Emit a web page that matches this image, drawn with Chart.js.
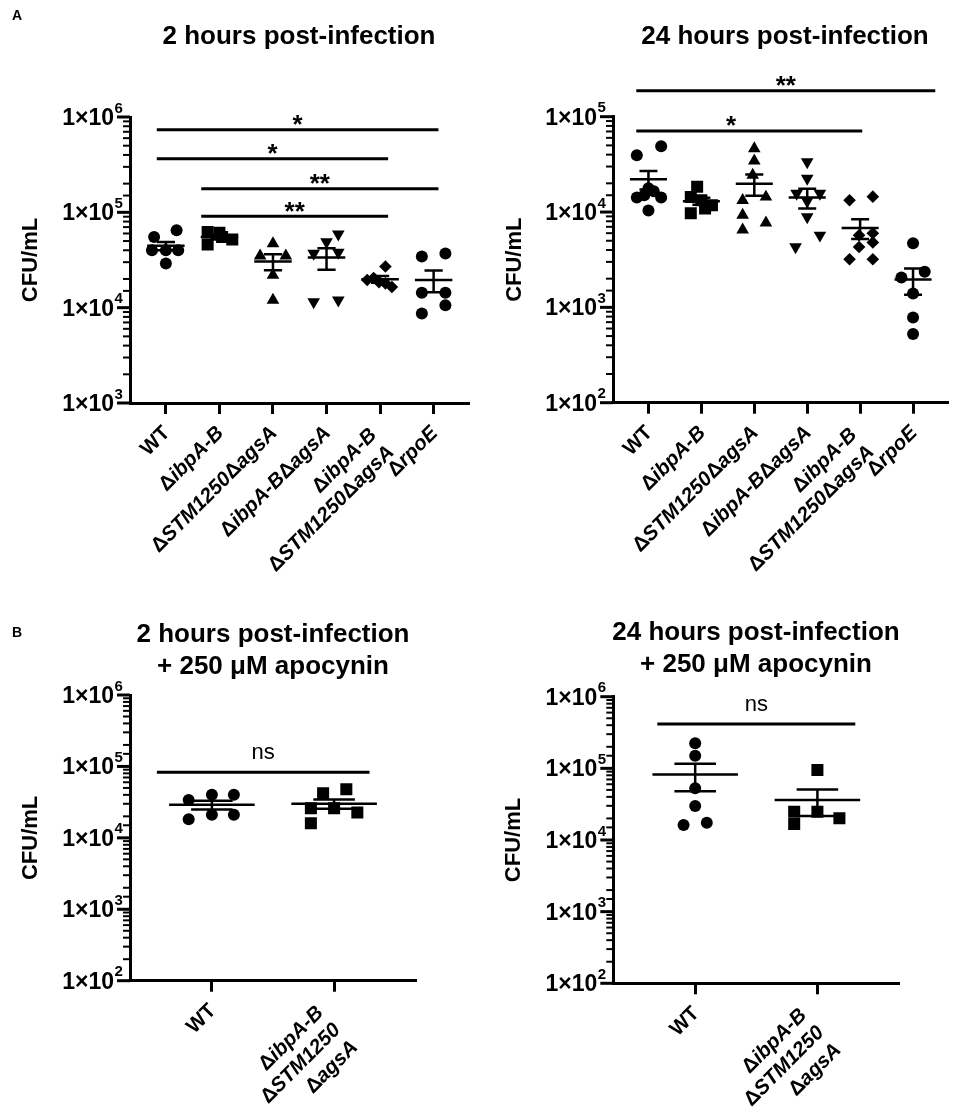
<!DOCTYPE html>
<html lang="en">

<head>
  <meta charset="UTF-8" />
  <title>CFU/mL after infection</title>
  <script src="https://cdn.jsdelivr.net/npm/chart.js"></script>
  <style>
    body {
      margin: 0;
      background: #fff;
      font-family: "Liberation Sans", Arial, sans-serif;
    }

    #page {
      position: relative;
      width: 957px;
      height: 1109px;
      overflow: hidden;
    }

    canvas {
      position: absolute;
    }

    .title {
      position: absolute;
      width: 400px;
      font-weight: bold;
      font-size: 26px;
      line-height: 32px;
      text-align: center;
      white-space: nowrap;
      color: #000;
    }

    .letter {
      position: absolute;
      font-weight: bold;
      font-size: 14px;
      line-height: 16px;
    }
  </style>
</head>

<body>

  <div id="page">
    <canvas id="c2h"></canvas>
    <canvas id="c24h"></canvas>
    <canvas id="cApo2h"></canvas>
    <canvas id="cApo24h"></canvas>

    <div class="letter" style="left:12px; top:7px;">A</div>
    <div class="title" style="left:99px; top:19px;">2 hours post-infection</div>
    <div class="title" style="left:585px; top:19px;">24 hours post-infection</div>
    <div class="letter" style="left:12px; top:624px;">B</div>
    <div class="title" style="left:73px; top:617px;">2 hours post-infection<br>+ 250 μM apocynin</div>
    <div class="title" style="left:556px; top:615px;">24 hours post-infection<br>+ 250 μM apocynin</div>
  </div>

  <script>
    // ---- data (CFU/mL) ----

    // A: 2 hours post-infection
    const groups2h = ['WT', 'ΔibpA-B', 'ΔSTM1250ΔagsA', 'ΔibpA-BΔagsA', ['ΔibpA-B', 'ΔSTM1250ΔagsA'], 'ΔrpoE'];
    const cfu2h = [
      [55000, 65000, 40000, 40000, 40000, 29000],
      [62000, 46000, 61000, 52000, 55000],
      [47000, 35000, 35000, 22000, 12000],
      [59000, 49000, 37000, 38000, 11500, 12000],
      [27000, 19500, 20500, 18500, 16500, 18000],
      [34500, 37000, 14300, 14300, 10600, 8700]
    ];
    const jitter2h = [
      [-0.22, 0.2, -0.26, 0, 0.23, 0],
      [-0.22, -0.22, 0, 0.24, 0.05],
      [0, -0.24, 0.24, 0, 0],
      [0.22, 0, -0.24, 0.22, -0.24, 0.22],
      [0.1, -0.24, -0.12, -0.02, 0.22, 0.1],
      [-0.22, 0.22, -0.22, 0.22, 0.22, -0.22]
    ];
    const mean2h = [44500, 55000, 30500, 33500, 19900, 19500];
    const sem2h = [4400, 3000, 5800, 8500, 1600, 5000];
    const stars2h = [
      { from: -0.17, to: 5.09, y: 735000, label: '*' },
      { from: -0.17, to: 4.15, y: 365000, label: '*' },
      { from: 0.66, to: 5.09, y: 177000, label: '**' },
      { from: 0.66, to: 4.15, y: 91000, label: '**' }
    ];

    // A: 24 hours post-infection
    const groups24h = ['WT', 'ΔibpA-B', 'ΔSTM1250ΔagsA', 'ΔibpA-BΔagsA', ['ΔibpA-B', 'ΔSTM1250ΔagsA'], 'ΔrpoE'];
    const cfu24h = [
      [39500, 49000, 14200, 15000, 17800, 16500, 14200, 10400],
      [18400, 14400, 13300, 11800, 10900, 9700],
      [46400, 34400, 24400, 13300, 14400, 9300, 7700, 6500],
      [33600, 22500, 15700, 15700, 13000, 8900, 5700, 4300],
      [13300, 14500, 5700, 6000, 4300, 4800, 3200, 3200],
      [4700, 2060, 2360, 1400, 785, 525]
    ];
    const jitter24h = [
      [-0.22, 0.24, -0.22, -0.08, 0, 0.1, 0.24, 0],
      [-0.08, -0.2, 0, 0.2, 0.07, -0.2],
      [0, 0, -0.03, -0.22, 0.22, -0.22, 0.22, -0.22],
      [0, 0, -0.2, 0.24, 0, 0, 0.24, -0.22],
      [-0.2, 0.24, -0.02, 0.24, -0.02, 0.24, -0.2, 0.24],
      [0, -0.22, 0.22, 0, 0, 0]
    ];
    const mean24h = [22100, 13000, 19800, 14200, 6800, 1960];
    const sem24h = [4900, 1100, 5000, 3300, 1600, 600];
    const stars24h = [
      { from: -0.23, to: 5.42, y: 187000, label: '**' },
      { from: -0.23, to: 4.04, y: 71000, label: '*', at: 1.56 }
    ];

    // B: + 250 µM apocynin
    const groupsApo = ['WT', ['ΔibpA-B', 'ΔSTM1250', 'ΔagsA']];
    const cfuApo2h = [
      [34000, 40000, 40000, 18200, 21000, 21000],
      [42200, 48000, 26000, 26000, 22600, 16000]
    ];
    const jitterApo2h = [
      [-0.19, 0, 0.18, -0.19, 0, 0.18],
      [-0.09, 0.1, -0.19, 0, 0.19, -0.19]
    ];
    const meanApo2h = [29000, 30000];
    const semApo2h = [4000, 4500];
    const starsApo2h = [{ from: -0.45, to: 1.29, y: 83000, label: 'ns' }];

    const cfuApo24h = [
      [224000, 150000, 52700, 29900, 16200, 17400],
      [94800, 24800, 24800, 20100, 16700]
    ];
    const jitterApo24h = [
      [0, 0, 0, 0, -0.095, 0.095],
      [0, -0.19, 0, 0.18, -0.19]
    ];
    const meanApo24h = [82000, 36200];
    const semApo24h = [34000, 14500];
    const starsApo24h = [{ from: -0.31, to: 1.31, y: 416000, label: 'ns' }];

    // ---- styling ----
    const FONT = '"Liberation Sans", Arial, sans-serif';
    const markers6 = ['circle', 'square', 'up', 'down', 'diamond', 'circle'];
    const markers2 = ['circle', 'square'];
    const POINT = {
      circle: { style: 'circle', r: 6, rot: 0 },
      square: { style: 'rect', r: 8.5, rot: 0 },
      up: { style: 'triangle', r: 7.3, rot: 0 },
      down: { style: 'triangle', r: 7.3, rot: 180 },
      diamond: { style: 'rectRot', r: 6.3, rot: 0 }
    };

    // Δ upright, gene names italic, WT upright
    function runsOf(text) {
      if (text === 'WT') return [[text, 'bold']];
      return text.split(/(Δ)/).filter(Boolean).map(s => [s, s === 'Δ' ? 'bold' : 'italic bold']);
    }

    function drawRuns(ctx, text, size) {
      const runs = runsOf(text);
      let total = 0;
      runs.forEach(r => {
        ctx.font = r[1] + ' ' + size + 'px ' + FONT;
        r.push(ctx.measureText(r[0]).width);
        total += r[2];
      });
      let x = -total;
      runs.forEach(r => {
        ctx.font = r[1] + ' ' + size + 'px ' + FONT;
        ctx.fillText(r[0], x, 0);
        x += r[2];
      });
    }

    function makePanel(cfg) {
      const canvas = document.getElementById(cfg.id);
      canvas.width = cfg.width;
      canvas.height = cfg.height;
      canvas.style.left = cfg.left + 'px';
      canvas.style.top = cfg.top + 'px';

      const datasets = [];

      // individual points
      cfg.values.forEach((vals, i) => {
        const m = POINT[cfg.markers[i]];
        datasets.push({
          data: vals.map((v, j) => ({ x: i + cfg.jitter[i][j], y: v })),
          pointStyle: m.style,
          pointRadius: m.r,
          pointHoverRadius: m.r,
          pointRotation: m.rot,
          backgroundColor: '#000',
          borderColor: '#000',
          pointBorderWidth: 0
        });
      });

      // mean line and SEM whiskers
      const bars = [];
      cfg.means.forEach((m, i) => {
        const s = cfg.sems[i];
        bars.push(
          { x: i - 0.35, y: m }, { x: i + 0.35, y: m }, { x: i, y: null },
          { x: i, y: m - s }, { x: i, y: m + s }, { x: i, y: null },
          { x: i - 0.17, y: m + s }, { x: i + 0.17, y: m + s }, { x: i, y: null },
          { x: i - 0.17, y: m - s }, { x: i + 0.17, y: m - s }, { x: i, y: null }
        );
      });
      datasets.push({
        data: bars,
        showLine: true,
        spanGaps: false,
        borderColor: '#000',
        borderWidth: 2.5,
        pointRadius: 0,
        borderCapStyle: 'butt'
      });

      // significance bars
      cfg.brackets.forEach(b => {
        datasets.push({
          data: [{ x: b.from, y: b.y }, { x: b.to, y: b.y }],
          showLine: true,
          borderColor: '#000',
          borderWidth: 3,
          pointRadius: 0,
          clip: false
        });
      });

      const n = cfg.groups.length;

      const textPlugin = {
        id: 'panelText',
        afterDraw(chart) {
          const ctx = chart.ctx;
          const xs = chart.scales.x;
          const ys = chart.scales.y;
          const area = chart.chartArea;
          ctx.save();
          ctx.fillStyle = '#000';
          ctx.strokeStyle = '#000';

          // y ticks: decades long and labelled, others short
          ys.ticks.forEach(t => {
            const y = ys.getPixelForValue(t.value);
            const lg = Math.log10(t.value);
            const major = Math.abs(lg - Math.round(lg)) < 1e-6;
            ctx.lineWidth = major ? 3 : 2;
            ctx.beginPath();
            ctx.moveTo(area.left - (major ? 13 : 7), y);
            ctx.lineTo(area.left, y);
            ctx.stroke();
            if (major) {
              const right = area.left - 16;
              ctx.textBaseline = 'alphabetic';
              ctx.textAlign = 'right';
              ctx.font = 'bold 23px ' + FONT;
              ctx.fillText('1×10', right, y + 8);
              ctx.textAlign = 'left';
              ctx.font = 'bold 15px ' + FONT;
              ctx.fillText(String(Math.round(lg)), right + 0.5, y - 4.5);
            }
          });

          // rotated category labels
          const step = 24.5 * Math.SQRT1_2;
          ctx.textBaseline = 'middle';
          ctx.textAlign = 'left';
          cfg.groups.forEach((g, i) => {
            const lines = Array.isArray(g) ? g : [g];
            const k = lines.length;
            const x0 = xs.getPixelForValue(i) + 1 - 7.5 * (k - 1);
            const y0 = area.bottom + 27 + (k > 1 ? 2 : 0);
            lines.forEach((line, j) => {
              ctx.save();
              ctx.translate(x0 + j * step, y0 + j * step);
              ctx.rotate(-Math.PI / 4);
              drawRuns(ctx, line, 20.5);
              ctx.restore();
            });
          });

          // significance labels
          ctx.textAlign = 'center';
          ctx.textBaseline = 'alphabetic';
          cfg.brackets.forEach(b => {
            const x = xs.getPixelForValue(b.at !== undefined ? b.at : (b.from + b.to) / 2);
            const y = ys.getPixelForValue(b.y);
            if (b.label === 'ns') {
              ctx.font = '22px ' + FONT;
              ctx.fillText(b.label, x, y - 13);
            } else {
              ctx.font = 'bold 26px ' + FONT;
              ctx.fillText(b.label, x, y + 3.5);
            }
          });
          ctx.restore();
        }
      };

      new Chart(canvas.getContext('2d'), {
        type: 'scatter',
        data: { datasets },
        options: {
          responsive: false,
          animation: false,
          events: [],
          layout: {
            padding: { left: 0, top: cfg.area.top, right: cfg.width - cfg.area.right, bottom: 0 }
          },
          plugins: {
            legend: { display: false },
            tooltip: { enabled: false }
          },
          scales: {
            x: {
              type: 'linear',
              min: -0.67,
              max: n - 0.33,
              afterBuildTicks: s => { s.ticks = cfg.groups.map((g, i) => ({ value: i })); },
              afterFit: s => { s.height = cfg.height - cfg.area.bottom; },
              ticks: { display: false },
              grid: {
                display: true,
                drawOnChartArea: false,
                drawTicks: true,
                tickLength: 11,
                tickWidth: 3,
                tickColor: '#000'
              },
              border: { display: true, color: '#000', width: 3 }
            },
            y: {
              type: 'logarithmic',
              min: cfg.yMin,
              max: cfg.yMax,
              afterFit: s => { s.width = cfg.area.left; },
              ticks: { display: false },
              grid: { display: true, drawOnChartArea: false, drawTicks: false },
              border: { display: true, color: '#000', width: 3 },
              title: {
                display: true,
                text: 'CFU/mL',
                color: '#000',
                font: { family: FONT, size: 22, weight: 'bold' },
                padding: { top: cfg.titlePad, bottom: 0 }
              }
            }
          }
        },
        plugins: [textPlugin]
      });
    }

    makePanel({
      id: 'c2h', left: 0, top: 0, width: 478, height: 575,
      area: { left: 130, top: 117, right: 470, bottom: 403 },
      yMin: 1e3, yMax: 1e6, titlePad: 18,
      groups: groups2h, values: cfu2h, jitter: jitter2h, means: mean2h, sems: sem2h,
      brackets: stars2h, markers: markers6
    });

    makePanel({
      id: 'c24h', left: 478, top: 0, width: 479, height: 575,
      area: { left: 135, top: 116.7, right: 475, bottom: 402.7 },
      yMin: 1e2, yMax: 1e5, titlePad: 24,
      groups: groups24h, values: cfu24h, jitter: jitter24h, means: mean24h, sems: sem24h,
      brackets: stars24h, markers: markers6
    });

    makePanel({
      id: 'cApo2h', left: 0, top: 575, width: 478, height: 534,
      area: { left: 130, top: 120, right: 416, bottom: 405.7 },
      yMin: 1e2, yMax: 1e6, titlePad: 18,
      groups: groupsApo, values: cfuApo2h, jitter: jitterApo2h, means: meanApo2h, sems: semApo2h,
      brackets: starsApo2h, markers: markers2
    });

    makePanel({
      id: 'cApo24h', left: 478, top: 575, width: 479, height: 534,
      area: { left: 135.3, top: 121.7, right: 421.3, bottom: 408.3 },
      yMin: 1e2, yMax: 1e6, titlePad: 23,
      groups: groupsApo, values: cfuApo24h, jitter: jitterApo24h, means: meanApo24h, sems: semApo24h,
      brackets: starsApo24h, markers: markers2
    });
  </script>

</body>

</html>
